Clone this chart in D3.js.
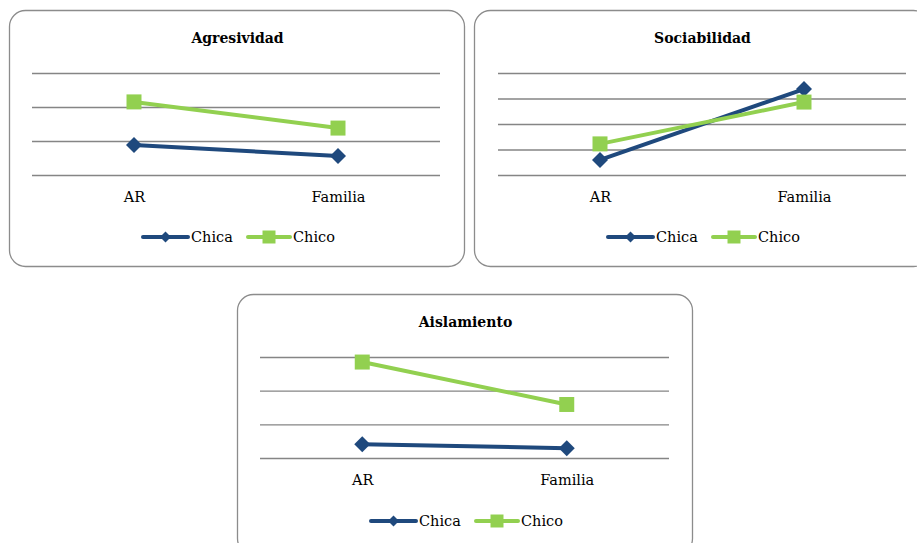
<!DOCTYPE html>
<html>
<head>
<meta charset="utf-8">
<script src="https://cdn.jsdelivr.net/npm/d3@7"></script>
<style>
  body { margin: 0; background: #fff; }
  text { font-family: "DejaVu Serif", serif; fill: #000; }
</style>
</head>
<body>
<div id="app"></div>
<script>
// data
var categories = ['AR', 'Familia'];
var seriesNames = ['Chica', 'Chico'];
var seriesColors = ['#1F497D', '#92D050'];

var agresividadChica = [0.88, 0.56];
var agresividadChico = [2.15, 1.38];
var sociabilidadChica = [0.59, 3.37];
var sociabilidadChico = [1.22, 2.86];
var aislamientoChica = [0.41, 0.29];
var aislamientoChico = [2.85, 1.59];

var agresividadTicks = [0, 1, 2, 3];
var sociabilidadTicks = [0, 1, 2, 3, 4];
var aislamientoTicks = [0, 1, 2, 3];

var W = 917, H = 543;

var svg = d3.select('#app')
  .append('svg')
  .attr('width', W)
  .attr('height', H);

drawPanel({ title: 'Agresividad', x: 9, y: 10, w: 455, h: 256,
  series: [agresividadChica, agresividadChico], ticks: agresividadTicks,
  plotX: [32, 440], plotY: [175, 73] });

drawPanel({ title: 'Sociabilidad', x: 474, y: 10, w: 455, h: 256,
  series: [sociabilidadChica, sociabilidadChico], ticks: sociabilidadTicks,
  plotX: [498, 906], plotY: [175, 73] });

drawPanel({ title: 'Aislamiento', x: 237, y: 294, w: 455, h: 260,
  series: [aislamientoChica, aislamientoChico], ticks: aislamientoTicks,
  plotX: [260, 669], plotY: [458, 357] });

///////////////////////////////////////////////////////////
function drawPanel(p) {
  var g = svg.append('g');

  g.append('rect')
    .attr('x', p.x + 0.5).attr('y', p.y + 0.5)
    .attr('width', p.w).attr('height', p.h)
    .attr('rx', 16).attr('ry', 16)
    .attr('fill', '#fff')
    .attr('stroke', '#8c8c8c')
    .attr('stroke-width', 1.3);

  g.append('text')
    .attr('x', p.x + p.w / 2 + 1).attr('y', p.y + 33)
    .attr('text-anchor', 'middle')
    .attr('font-weight', 'bold')
    .attr('font-size', 14)
    .text(p.title);

  var x = d3.scalePoint().domain(categories).range(p.plotX).padding(0.5);
  var y = d3.scaleLinear()
    .domain([p.ticks[0], p.ticks[p.ticks.length - 1]])
    .range(p.plotY);

  // gridlines
  var yAxis = d3.axisLeft(y).tickValues(p.ticks)
    .tickSize(-(p.plotX[1] - p.plotX[0])).tickFormat('');
  var ga = g.append('g')
    .attr('transform', 'translate(' + p.plotX[0] + ',0)')
    .call(yAxis);
  ga.select('.domain').remove();
  ga.selectAll('.tick line').attr('stroke', '#858585').attr('stroke-width', 1.3);

  // category labels
  var xAxis = d3.axisBottom(x).tickSize(0).tickPadding(17);
  var gx = g.append('g')
    .attr('transform', 'translate(0,' + p.plotY[0] + ')')
    .call(xAxis);
  gx.select('.domain').remove();
  gx.selectAll('text')
    .attr('font-size', 14.5)
    .attr('font-family', '"DejaVu Serif", serif')
    .attr('fill', '#000');

  var line = d3.line()
    .x(function(d, i) { return x(categories[i]); })
    .y(function(d) { return y(d); });

  p.series.forEach(function(vals, si) {
    var s = g.append('g');
    s.append('path')
      .datum(vals)
      .attr('d', line)
      .attr('fill', 'none')
      .attr('stroke', seriesColors[si])
      .attr('stroke-width', 4)
      .attr('stroke-linecap', 'round');
    s.selectAll('.mk')
      .data(vals)
      .enter()
      .append('path')
      .attr('class', 'mk')
      .attr('transform', function(d, i) {
        return 'translate(' + x(categories[i]) + ',' + y(d) + ')';
      })
      .attr('d', si === 0 ? marker('diamond', 8) : marker('square', 7.5))
      .attr('fill', seriesColors[si]);
  });

  // legend
  var lx = p.x + 134;
  var ly = p.y + 227;
  var items = [
    { name: seriesNames[0], color: seriesColors[0], type: 'diamond', x0: lx, w: 45 },
    { name: seriesNames[1], color: seriesColors[1], type: 'square', x0: lx + 105, w: 42 }
  ];
  items.forEach(function(it) {
    g.append('line')
      .attr('x1', it.x0).attr('x2', it.x0 + it.w)
      .attr('y1', ly).attr('y2', ly)
      .attr('stroke', it.color).attr('stroke-width', 4)
      .attr('stroke-linecap', 'round');
    g.append('path')
      .attr('transform', 'translate(' + (it.x0 + it.w / 2) + ',' + ly + ')')
      .attr('d', it.type === 'diamond' ? marker('diamond', 5.5) : marker('square', 6.5))
      .attr('fill', it.color);
    g.append('text')
      .attr('x', it.x0 + it.w + 3).attr('y', ly + 5)
      .attr('font-size', 14.5)
      .text(it.name);
  });
}

function marker(type, r) {
  if (type === 'diamond') {
    return 'M0,' + (-r) + 'L' + r + ',0L0,' + r + 'L' + (-r) + ',0Z';
  }
  return 'M' + (-r) + ',' + (-r) + 'H' + r + 'V' + r + 'H' + (-r) + 'Z';
}
</script>
</body>
</html>
